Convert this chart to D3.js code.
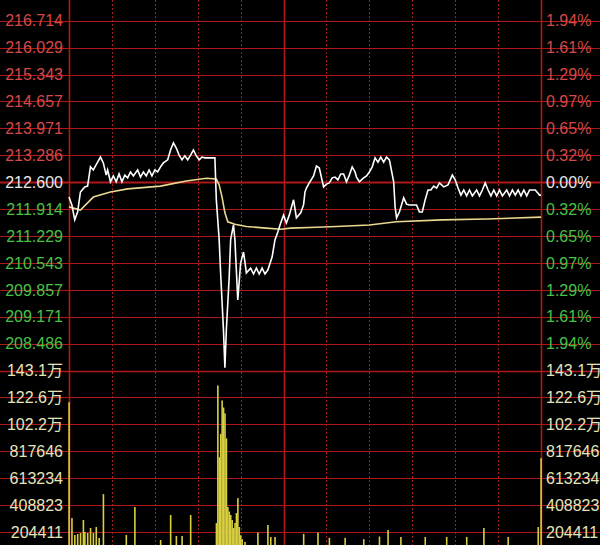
<!DOCTYPE html>
<html><head><meta charset="utf-8">
<script src="https://cdn.jsdelivr.net/npm/d3@7"></script>
<style>html,body{margin:0;padding:0;background:#000;overflow:hidden}svg{display:block}</style>
</head><body><svg id="c" width="600" height="545"></svg>
<script>
// ---- data ----
const preClose = 212.6;
const priceLabels = ["217.400","216.714","216.029","215.343","214.657","213.971","213.286","212.600","211.914","211.229","210.543","209.857","209.171","208.486"];
const pctLabels = ["2.26%","1.94%","1.61%","1.29%","0.97%","0.65%","0.32%","0.00%","0.32%","0.65%","0.97%","1.29%","1.61%","1.94%"];
const volTicks = [1430877,1226466,1022055,817646,613234,408823,204411];
const volLabels = ["143.1万","122.6万","102.2万","817646","613234","408823","204411"];
const timeTicks = [0,30,60,90,120,150,180,210,240,270,300,330];
const solidTimes = [0,150,330];

const priceTime = [
 0,2,4,6,8,11,13,15,17,20,
 22,24,26,27,29,31,33,35,37,39,
 41,43,45,48,50,52,54,56,58,60,
 62,64,66,69,71,73,75,77,79,81,
 83,85,87,89,91,93,95,102,103,105,
 106,108,109,110,112,113,115,116,117,118,
 120,122,123,124,127,129,131,133,135,137,
 139,142,144,146,148,150,152,154,157,159,
 162,164,165,166,168,171,173,175,178,180,
 182,184,186,188,190,192,194,196,198,200,
 201,203,206,208,210,212,214,216,218,220,
 222,224,227,228,229,231,234,236,238,243,
 245,247,249,251,253,255,257,259,262,265,
 268,270,272,274,276,278,280,282,285,287,
 289,291,293,295,297,299,301,303,306,308,
 310,312,314,316,318,320,322,326,329,330];
const priceValue = [
 212.22,212.02,211.64,211.84,212.35,212.48,212.50,212.99,212.91,213.11,
 213.24,213.09,212.78,212.91,212.61,212.76,212.61,212.81,212.61,212.78,
 212.71,212.86,212.76,212.91,212.73,212.86,212.76,212.91,212.76,212.91,
 212.86,212.99,213.09,213.17,213.42,213.60,213.47,213.29,213.17,213.27,
 213.17,213.29,213.42,213.27,213.17,213.24,213.22,213.22,212.15,211.13,
 210.29,208.83,207.87,208.83,210.18,211.13,211.51,211.13,210.36,209.60,
 210.54,210.82,210.57,210.29,210.41,210.26,210.41,210.26,210.41,210.26,
 210.36,210.69,211.13,211.33,211.56,211.76,211.56,211.76,212.15,211.69,
 211.82,212.02,212.35,212.45,212.58,212.76,213.01,212.96,212.48,212.55,
 212.58,212.71,212.73,212.66,212.81,212.81,212.61,212.78,212.99,212.86,
 212.73,212.61,212.71,212.76,212.86,212.99,213.22,213.11,213.24,213.11,
 213.24,213.17,212.61,211.97,211.69,211.84,212.20,212.04,212.02,212.02,
 211.84,211.84,212.15,212.40,212.40,212.50,212.45,212.58,212.48,212.53,
 212.78,212.66,212.45,212.27,212.40,212.25,212.40,212.25,212.40,212.25,
 212.40,212.58,212.40,212.25,212.40,212.25,212.40,212.25,212.40,212.25,
 212.40,212.27,212.40,212.25,212.40,212.25,212.40,212.40,212.27,212.27];

const avgTime = [0,8,17,29,41,64,82,96,103,105,107,109,111,116,124,138,148,155,173,187,210,229,261,292,330];
const avgValue = [211.97,211.89,212.22,212.35,212.43,212.50,212.63,212.70,212.68,212.53,212.22,211.82,211.59,211.53,211.47,211.43,211.40,211.43,211.45,211.47,211.51,211.59,211.64,211.66,211.71];

const volTime = [0,2,4,6,8,10,11,13,15,17,19,21,24,40,46,64,71,75,79,85,
 103,104,105,106,107,108,109,110,111,112,113,114,115,116,117,118,119,120,121,123,
 132,139,141,144,164,174,182,193,206,217,223,232,249,264,278,290,307,328,330];
const volValue = [1190000,310400,181700,189300,196800,295300,204400,196800,234700,196800,242300,159000,492100,181700,393700,143800,333100,174100,174100,333100,
 272600,1317400,772200,950000,1203800,1150000,1105400,916100,393700,360000,333100,295300,234700,272600,348300,461800,242300,180000,150000,128700,
 200000,257400,166600,166600,190000,200000,160000,160000,150000,170000,220000,166600,166600,166600,166600,234700,166600,242300,764700];

// ---- layout ----
const svg = d3.select("#c");
const x0 = 69, x1 = 541, yTop = -6.2, step = 26.91;
const x = d3.scaleLinear().domain([0,330]).range([x0,x1]);
const y = d3.scaleLinear().domain([preClose-4.8, preClose+4.8]).range([yTop+14*step, yTop]);
const yv = d3.scaleLinear().domain([0, 1430877]).range([yTop+21*step, yTop+14*step]);

svg.append("rect").attr("width",600).attr("height",545).attr("fill","#000");

const grid = svg.append("g");
const priceVals = priceLabels.map(Number);
const gridColor = "#b01818";
// horizontal price grid
grid.selectAll("line.hp").data(priceVals).join("line")
  .attr("x1",0).attr("x2",600)
  .attr("y1",d=>Math.round(y(d))+0.5).attr("y2",d=>Math.round(y(d))+0.5)
  .attr("stroke",gridColor)
  .attr("stroke-width",(d,i)=>i===7?2:1.2);
// price/volume divider & volume grid
grid.append("line").attr("x1",0).attr("x2",600)
  .attr("y1",Math.round(y(preClose-4.8))+0.5).attr("y2",Math.round(y(preClose-4.8))+0.5)
  .attr("stroke",gridColor).attr("stroke-width",1.6);
grid.selectAll("line.hv").data(volTicks).join("line")
  .attr("x1",0).attr("x2",600)
  .attr("y1",d=>Math.round(yv(d))+0.5).attr("y2",d=>Math.round(yv(d))+0.5)
  .attr("stroke",gridColor).attr("stroke-width",1.2);
// vertical grid
grid.selectAll("line.v").data(timeTicks).join("line")
  .attr("x1",d=>Math.round(x(d))+0.5).attr("x2",d=>Math.round(x(d))+0.5)
  .attr("y1",0).attr("y2",545)
  .attr("stroke",d=>solidTimes.includes(d)?"#b01818":"#a02020")
  .attr("stroke-width",d=>solidTimes.includes(d)?1.6:1)
  .attr("stroke-dasharray",d=>solidTimes.includes(d)?null:"2,2");

// volume bars
svg.append("g").selectAll("rect").data(volTime.map((t,i)=>({t,v:volValue[i]}))).join("rect")
  .attr("x",d=>x(d.t)-0.7).attr("width",1.6)
  .attr("y",d=>yv(d.v)).attr("height",d=>yv(0)-yv(d.v))
  .attr("fill","#d8d040");

// average line
const line = d3.line().x(d=>x(d.t)).y(d=>y(d.p));
svg.append("path").datum(avgTime.map((t,i)=>({t,p:avgValue[i]})))
  .attr("d",line).attr("fill","none").attr("stroke","#e8d890").attr("stroke-width",1.6);
// price line
svg.append("path").datum(priceTime.map((t,i)=>({t,p:priceValue[i]})))
  .attr("d",line).attr("fill","none").attr("stroke","#ffffff").attr("stroke-width",1.6)
  .attr("stroke-linejoin","miter");

// labels
const font = "'Liberation Sans', Arial, 'Noto Sans CJK SC', sans-serif";
const colorFor = i => i<7 ? "#d44848" : (i===7 ? "#e8e8e8" : "#48c048");
const lab = svg.append("g").attr("font-family",font).attr("font-size",16);
lab.selectAll("text.pl").data(priceLabels).join("text")
  .attr("x",63).attr("y",(d,i)=>y(priceVals[i])).attr("dy","0.36em")
  .attr("text-anchor","end").attr("fill",(d,i)=>colorFor(i)).text(d=>d);
lab.selectAll("text.pr").data(pctLabels).join("text")
  .attr("x",546).attr("y",(d,i)=>y(priceVals[i])).attr("dy","0.36em")
  .attr("fill",(d,i)=>colorFor(i)).text(d=>d);
lab.selectAll("text.vl").data(volLabels).join("text")
  .attr("x",63).attr("y",(d,i)=>yv(volTicks[i])).attr("dy","0.36em")
  .attr("text-anchor","end").attr("fill","#e4e4bc").text(d=>d);
lab.selectAll("text.vr").data(volLabels).join("text")
  .attr("x",546).attr("y",(d,i)=>yv(volTicks[i])).attr("dy","0.36em")
  .attr("fill","#e4e4bc").text(d=>d);
</script>
</body></html>
